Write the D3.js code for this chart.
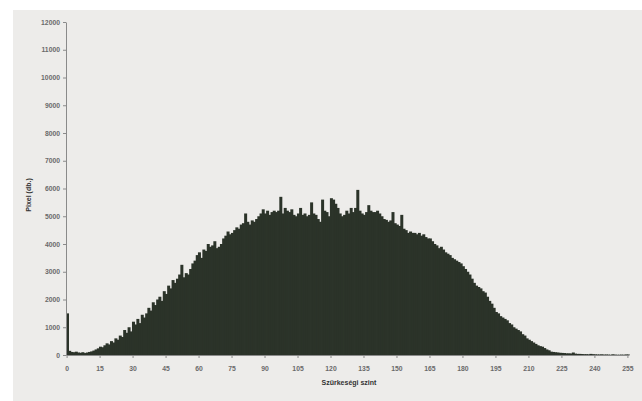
<!DOCTYPE html>
<html>
<head>
<meta charset="utf-8">
<script src="https://cdn.jsdelivr.net/npm/d3@7"></script>
<style>
  body { margin: 0; background: #fff; }
  svg { display: block; }
  .axis text { font-family: "Liberation Sans", Arial, sans-serif; font-size: 6.8px; font-weight: bold; fill: #6a6a6a; }
  .axis path, .axis line { stroke: #8a8a8a; }
</style>
</head>
<body>
<div id="chart"></div>
<script>
// Histogram of grey levels (pixel counts per level 0..255)

// pixel counts, 16 levels per row
const counts = [
  1500, 150, 110, 100, 120, 90, 80, 100, 70, 90, 110, 130, 160, 200, 240, 300,
  280, 350, 420, 380, 500, 450, 600, 550, 700, 650, 900, 800, 1000, 850, 1200, 1100,
  1300, 1150, 1450, 1350, 1500, 1700, 1600, 1900, 1800, 2000, 2100, 1950, 2300, 2200, 2500, 2400,
  2700, 2600, 2750, 2900, 3250, 2800, 2950, 2900, 3100, 3300, 3400, 3600, 3700, 3500, 3800, 3750,
  4000, 3900, 3950, 4100, 3850, 3900, 4000, 4200, 4300, 4450, 4350, 4400, 4500, 4600, 4550, 4700,
  4750, 5100, 4800, 4700, 4850, 4800, 4900, 5000, 5100, 5250, 5100, 5200, 5050, 5150, 5200, 5150,
  5200, 5700, 5100, 5300, 5200, 5150, 5250, 5050, 5000, 5100, 5300, 5050, 5100, 5000, 5050, 5500,
  5100, 5050, 4900, 4800, 5600, 5200, 5150, 5000, 5650, 5600, 5450, 5300, 5100, 5000, 5050, 5200,
  5100, 5300, 5150, 5300, 5950, 5200, 5100, 5050, 5150, 5400, 5200, 5150, 5150, 5200, 5100, 5000,
  4900, 4870, 4800, 4850, 5150, 4750, 4700, 4650, 5050, 4550, 4500, 4400, 4450, 4400, 4400, 4350,
  4400, 4300, 4350, 4250, 4200, 4200, 4100, 4000, 3950, 3850, 3900, 3800, 3700, 3650, 3600, 3500,
  3450, 3400, 3350, 3300, 3200, 3100, 3000, 2900, 2750, 2600, 2500, 2450, 2400, 2300, 2250, 2100,
  1950, 1850, 1700, 1550, 1500, 1400, 1350, 1300, 1250, 1150, 1100, 1000, 950, 900, 850, 750,
  700, 600, 550, 500, 450, 400, 350, 320, 300, 250, 200, 170, 120, 110, 100, 90,
  80, 75, 70, 60, 60, 55, 90, 50, 40, 40, 35, 30, 30, 25, 40, 30,
  25, 20, 20, 25, 15, 20, 15, 10, 25, 15, 10, 10, 15, 10, 20, 20
];
const levels = d3.range(256);
const xTicks = d3.range(0, 256, 15);
const yTicks = d3.range(0, 12001, 1000);
const xTitle = "Szürkeségi szint";
const yTitle = "Pixel (db.)";

const W = 642, H = 401;
var margin = {top: 22, right: 13, bottom: 46, left: 66};

var svg = d3.select("#chart").append("svg")
    .attr("width", W)
    .attr("height", H);

// scanned page background
svg.append("rect")
    .attr("x", 13).attr("y", 10)
    .attr("width", W - 13).attr("height", H - 10)
    .attr("fill", "#edecea");

var x = d3.scaleBand()
    .domain(levels)
    .range([margin.left, W - margin.right])
    .paddingInner(0)
    .paddingOuter(0);

var y = d3.scaleLinear()
    .domain([0, 12000])
    .range([H - margin.bottom, margin.top]);

// bars (slightly overlapped so no seams show between neighbours)
svg.append("g")
    .selectAll("rect")
    .data(levels)
    .enter()
    .append("rect")
        .attr("x", d => x(d))
        .attr("y", d => y(counts[d]))
        .attr("width", x.bandwidth() + 0.8)
        .attr("height", d => y(0) - y(counts[d]))
        .attr("fill", "#2b3329");

// x axis
svg.append("g")
    .attr("class", "axis")
    .attr("transform", "translate(0," + y(0) + ")")
    .call(d3.axisBottom(x).tickValues(xTicks).tickSize(3).tickPadding(8).tickSizeOuter(0));

// y axis
svg.append("g")
    .attr("class", "axis")
    .attr("transform", "translate(" + margin.left + ",0)")
    .call(d3.axisLeft(y).tickValues(yTicks).tickFormat(d3.format("d")).tickSize(3).tickPadding(3).tickSizeOuter(0));

// titles
svg.append("text")
    .attr("x", 349).attr("y", 385)
    .attr("text-anchor", "middle")
    .style("font-family", "Liberation Sans, Arial, sans-serif")
    .style("font-size", "7px")
    .style("font-weight", "bold")
    .style("fill", "#333")
    .text(xTitle);

svg.append("text")
    .attr("transform", "translate(31,195) rotate(-90)")
    .attr("text-anchor", "middle")
    .style("font-family", "Liberation Sans, Arial, sans-serif")
    .style("font-size", "7px")
    .style("font-weight", "bold")
    .style("fill", "#333")
    .text(yTitle);
</script>
</body>
</html>
